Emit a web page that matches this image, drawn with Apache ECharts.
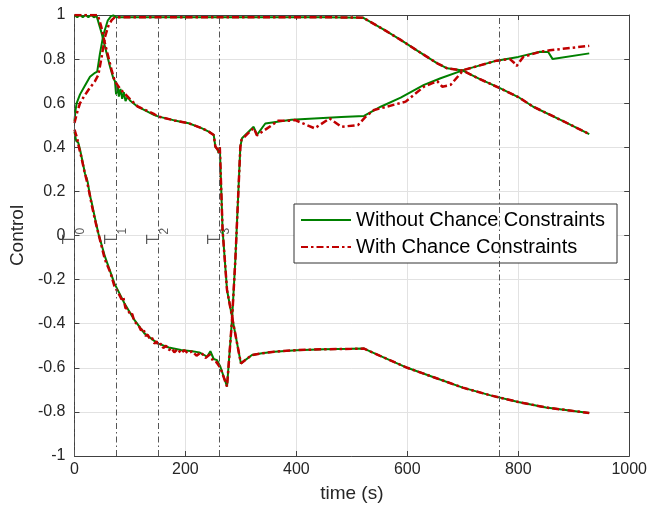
<!DOCTYPE html>
<html><head><meta charset="utf-8">
<script src="https://cdn.jsdelivr.net/npm/echarts@6/dist/echarts.min.js"></script>
<style>html,body{margin:0;padding:0;background:#fff}#c{width:650px;height:508px}</style>
</head><body><div id="c"></div>
<script>
const seriesNames = ['Without Chance Constraints', 'With Chance Constraints'];
const xRange = [0, 1000, 200];
const yRange = [-1, 1, 0.2];

// Control component 1
const g1T = [0, 2, 4, 10, 19, 28, 37, 41, 46, 52, 60, 66, 70, 75, 150, 300, 450, 520, 560, 588, 620, 654, 672, 700, 730, 767, 800, 827, 880, 928];
const g1Y = [0.52, 0.57, 0.60, 0.64, 0.68, 0.72, 0.738, 0.743, 0.826, 0.909, 0.975, 0.995, 0.998, 0.99, 0.99, 0.99, 0.99, 0.988, 0.93, 0.887, 0.835, 0.781, 0.758, 0.748, 0.71, 0.668, 0.628, 0.584, 0.52, 0.46];
const r1T = [0, 5, 10, 17, 25, 37, 43, 49, 55, 61, 67, 72, 76, 150, 300, 450, 520, 560, 588, 620, 654, 672, 700, 730, 767, 800, 827, 880, 928];
const r1Y = [0.51, 0.56, 0.60, 0.63, 0.66, 0.70, 0.728, 0.81, 0.90, 0.95, 0.977, 0.988, 0.99, 0.99, 0.99, 0.99, 0.988, 0.93, 0.887, 0.835, 0.781, 0.758, 0.748, 0.71, 0.668, 0.628, 0.584, 0.52, 0.46];

// Control component 2
const g2T = [0, 5, 10, 15, 20, 25, 30, 35, 40, 49, 55, 64, 70, 73, 75, 78, 80, 83, 86, 89, 92, 96, 100, 114, 144, 152, 180, 206, 230, 242, 251, 254, 258, 260, 262, 267, 275, 284, 300, 320, 338, 360, 400, 450, 500, 522, 550, 600, 650, 700, 750, 800, 850, 928];
const g2Y = [1.0, 0.99, 1.0, 0.99, 1.0, 0.99, 1.0, 0.99, 0.995, 0.917, 0.856, 0.766, 0.713, 0.70, 0.64, 0.68, 0.63, 0.665, 0.62, 0.65, 0.61, 0.63, 0.612, 0.584, 0.546, 0.539, 0.522, 0.509, 0.486, 0.471, 0.456, 0.403, 0.39, 0.373, 0.40, 0.025, -0.247, -0.368, -0.58, -0.542, -0.534, -0.527, -0.52, -0.516, -0.514, -0.513, -0.545, -0.60, -0.645, -0.69, -0.725, -0.755, -0.78, -0.805];
const r2T = [0, 42, 48, 55, 61, 67, 72, 78, 84, 92, 102, 114, 144, 152, 180, 206, 230, 242, 251, 254, 258, 260, 262, 267, 275, 284, 300, 320, 338, 360, 400, 450, 500, 522, 550, 600, 650, 700, 750, 800, 850, 928];
const r2Y = [1.0, 1.0, 0.95, 0.87, 0.81, 0.75, 0.705, 0.68, 0.66, 0.64, 0.614, 0.585, 0.55, 0.539, 0.522, 0.509, 0.486, 0.471, 0.456, 0.403, 0.39, 0.373, 0.40, 0.025, -0.247, -0.368, -0.58, -0.542, -0.534, -0.527, -0.52, -0.516, -0.514, -0.513, -0.545, -0.60, -0.645, -0.69, -0.725, -0.755, -0.78, -0.805];

// Control component 3
const g3T = [0, 3, 7, 10, 15, 19, 22, 24, 28, 31, 36, 43, 55, 72, 90, 108, 126, 150, 170, 192, 212, 225, 234, 239, 245, 251, 257, 263, 275, 284, 290, 299, 302, 323, 329, 344, 391, 481, 522, 552, 588, 630, 660, 701, 761, 800, 839, 854, 862, 928];
const g3Y = [0.47, 0.43, 0.42, 0.39, 0.33, 0.28, 0.26, 0.24, 0.18, 0.15, 0.09, 0.01, -0.096, -0.217, -0.307, -0.383, -0.444, -0.489, -0.508, -0.519, -0.525, -0.53, -0.542, -0.55, -0.525, -0.56, -0.565, -0.595, -0.685, -0.383, -0.111, 0.403, 0.441, 0.493, 0.456, 0.508, 0.525, 0.537, 0.542, 0.584, 0.625, 0.683, 0.713, 0.75, 0.793, 0.81, 0.833, 0.832, 0.80, 0.826];
const r3T = [0, 5, 8, 12, 18, 21, 23, 28, 31, 38, 45, 55, 65, 72, 80, 85, 88, 92, 96, 100, 104, 108, 112, 116, 120, 124, 128, 132, 136, 140, 144, 148, 152, 156, 160, 165, 170, 175, 180, 186, 192, 198, 205, 212, 220, 228, 236, 244, 250, 256, 263, 275, 284, 290, 299, 301, 323, 329, 367, 391, 397, 433, 460, 481, 511, 525, 540, 597, 630, 654, 663, 678, 701, 761, 785, 794, 797, 809, 839, 857, 928];
const r3Y = [0.48, 0.44, 0.40, 0.36, 0.29, 0.26, 0.24, 0.18, 0.14, 0.06, -0.01, -0.11, -0.17, -0.23, -0.265, -0.29, -0.28, -0.33, -0.33, -0.36, -0.355, -0.39, -0.40, -0.41, -0.43, -0.42, -0.455, -0.45, -0.47, -0.465, -0.49, -0.48, -0.50, -0.49, -0.51, -0.50, -0.52, -0.51, -0.53, -0.515, -0.535, -0.52, -0.535, -0.525, -0.545, -0.53, -0.555, -0.54, -0.57, -0.575, -0.60, -0.685, -0.383, -0.111, 0.40, 0.434, 0.488, 0.454, 0.52, 0.52, 0.524, 0.486, 0.531, 0.493, 0.501, 0.539, 0.569, 0.607, 0.675, 0.70, 0.675, 0.683, 0.75, 0.793, 0.80, 0.78, 0.769, 0.81, 0.833, 0.84, 0.86];

// Phase markers
const markerTimes = [0, 75, 151, 261, 765];
const labelTimes = [0, 75, 151, 261];
const labelSubs = ['0', '1', '2', '3'];
const labelY = -0.04;

const FONT = '"Liberation Sans", Arial, Helvetica, sans-serif';
const GREEN = '#008000', RED = '#c00000', AX = '#404040', TXT = '#262626';
function pts(t, y) { return t.map((v, i) => [v, y[i]]); }

function greenSeries(t, y) {
  return { type: 'line', name: seriesNames[0], data: pts(t, y), symbol: 'none', showSymbol: false,
    lineStyle: { color: GREEN, width: 2 }, itemStyle: { color: GREEN }, z: 3, animation: false, silent: true };
}
function redSeries(t, y) {
  return { type: 'line', name: seriesNames[1], data: pts(t, y), symbol: 'none', showSymbol: false,
    lineStyle: { color: RED, width: 2.5, type: [7, 3, 2.5, 3] }, itemStyle: { color: RED }, z: 4, animation: false, silent: true };
}

const chart = echarts.init(document.getElementById('c'), null, { renderer: 'canvas' });
const baseAxis = {
  type: 'value', axisLine: { show: true, onZero: false, lineStyle: { color: AX, width: 1 } },
  axisTick: { show: true, inside: true, length: 5, lineStyle: { color: AX } }
};
chart.setOption({
  backgroundColor: '#fff',
  animation: false,
  textStyle: { fontFamily: FONT },
  grid: { left: 72, right: 20, top: 15, bottom: 52, containLabel: false },
  xAxis: [
    Object.assign({}, baseAxis, { min: xRange[0], max: xRange[1], interval: xRange[2], position: 'bottom',
      name: 'time (s)', nameLocation: 'middle', nameGap: 28, nameTextStyle: { fontSize: 19, color: TXT, fontFamily: FONT },
      axisLabel: { fontSize: 16, color: TXT, margin: 6, fontFamily: FONT, formatter: v => String(v) },
      splitLine: { show: true, lineStyle: { color: '#e2e2e2', width: 1 } } }),
    Object.assign({}, baseAxis, { min: xRange[0], max: xRange[1], interval: xRange[2], position: 'top',
      axisLabel: { show: false }, splitLine: { show: false } })
  ],
  yAxis: [
    Object.assign({}, baseAxis, { min: yRange[0], max: yRange[1], interval: yRange[2], position: 'left',
      name: 'Control', nameLocation: 'middle', nameGap: 43, nameTextStyle: { fontSize: 19, color: TXT, fontFamily: FONT },
      axisLabel: { fontSize: 16, color: TXT, margin: 9, fontFamily: FONT },
      splitLine: { show: true, lineStyle: { color: '#e2e2e2', width: 1 } } }),
    Object.assign({}, baseAxis, { min: yRange[0], max: yRange[1], interval: yRange[2], position: 'right',
      axisLabel: { show: false }, splitLine: { show: false } })
  ],
  legend: {
    data: seriesNames, orient: 'vertical', left: 294, top: 204,
    padding: [6, 12, 6, 6], itemGap: 7, itemWidth: 50, itemHeight: 14,
    backgroundColor: '#fff', borderColor: '#333', borderWidth: 1, borderRadius: 0,
    itemStyle: { opacity: 0, borderWidth: 0 },
    textStyle: { fontSize: 20, color: '#000', fontFamily: FONT }, selectedMode: false
  },
  series: [
    greenSeries(g1T, g1Y), greenSeries(g2T, g2Y), greenSeries(g3T, g3Y),
    redSeries(r1T, r1Y), redSeries(r2T, r2Y), redSeries(r3T, r3Y),
    {
      type: 'scatter', name: 'markers', data: labelTimes.map(t => [t, labelY]),
      symbolSize: 1, itemStyle: { color: 'rgba(0,0,0,0)' }, silent: true, z: 2, animation: false,
      label: {
        show: true, position: 'inside', align: 'left', verticalAlign: 'middle', rotate: 90,
        formatter: p => '{t|T}{s|' + labelSubs[p.dataIndex] + '}',
        rich: {
          t: { fontSize: 16, lineHeight: 25, verticalAlign: 'top', color: '#333', fontFamily: FONT },
          s: { fontSize: 12, lineHeight: 25, verticalAlign: 'bottom', color: '#333', fontFamily: FONT }
        }
      },
      markLine: {
        silent: true, symbol: ['none', 'none'], animation: false,
        label: { show: false },
        lineStyle: { color: '#555', width: 1, type: [6, 3, 1.5, 3] },
        emphasis: { disabled: true },
        data: markerTimes.map(t => ({ xAxis: t }))
      }
    }
  ]
});
</script></body></html>
